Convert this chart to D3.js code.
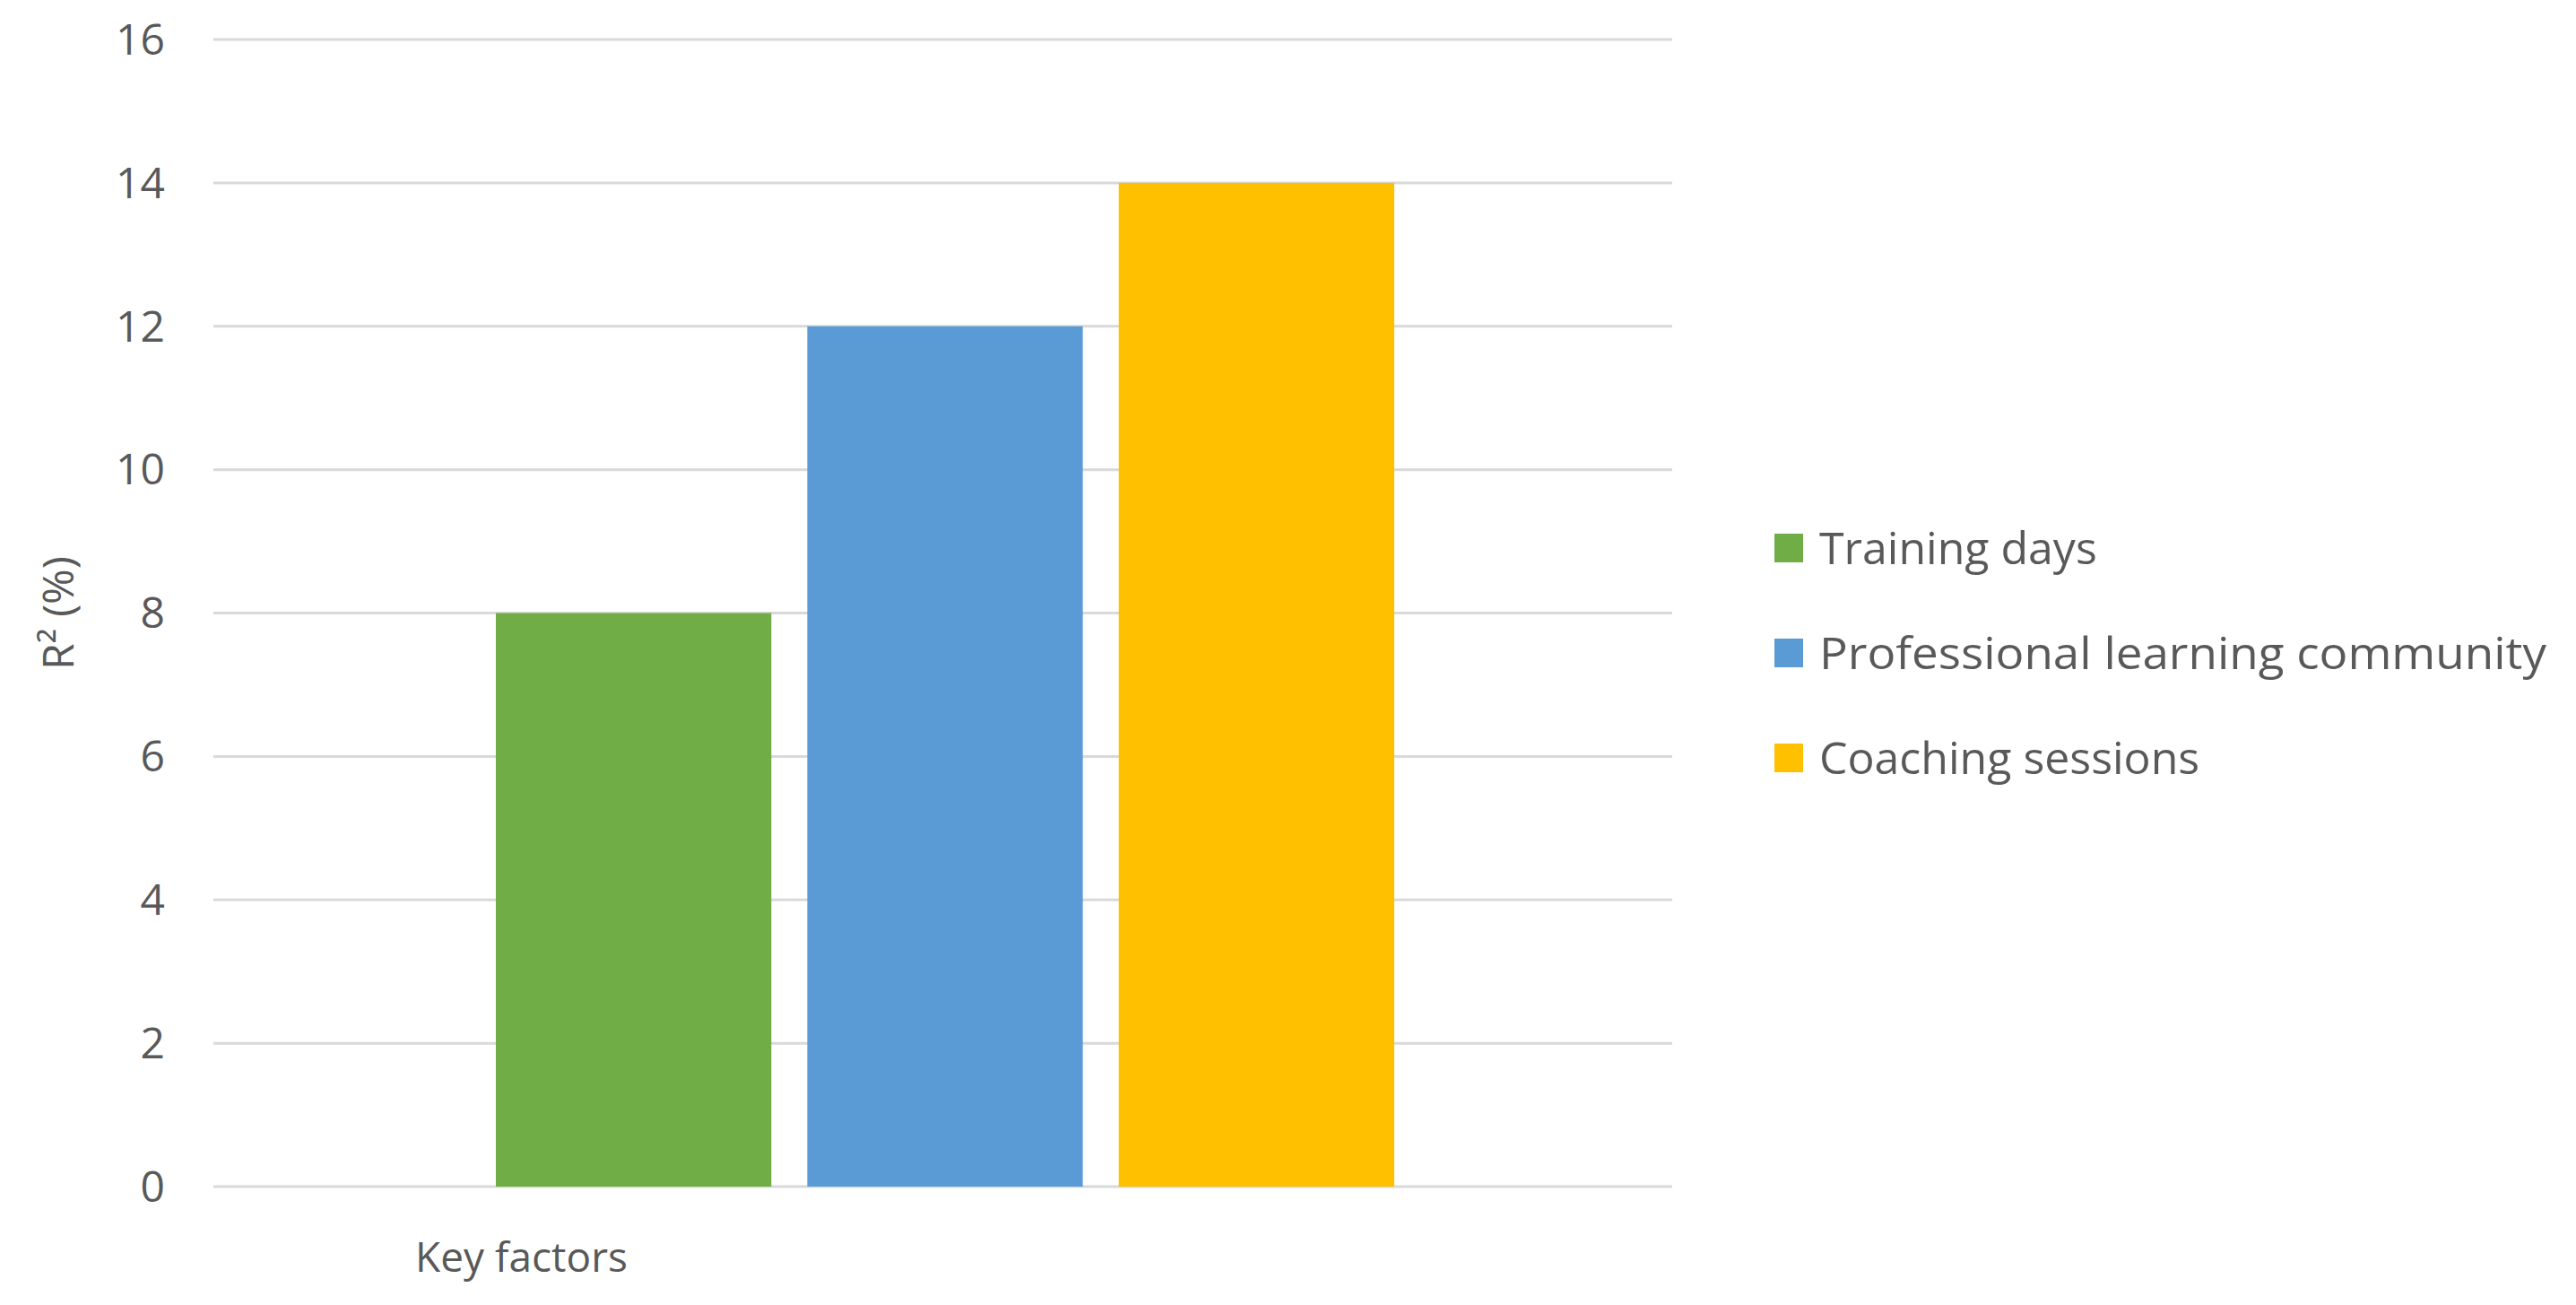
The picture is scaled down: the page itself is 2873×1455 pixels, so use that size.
<!DOCTYPE html>
<html><head><meta charset="utf-8">
<script src="https://cdn.jsdelivr.net/npm/d3@7"></script>
<style>body{margin:0;background:#fff}text{font-family:"Open Sans",sans-serif;fill:#595959}</style>
</head><body><svg id="c" width="2873" height="1455"></svg>
<script>
const categories = ["Training days","Professional learning community","Coaching sessions"];
const values = [8, 12, 14];
const colors = ["#70AD47","#5B9BD5","#FFC000"];
const yTicks = [0,2,4,6,8,10,12,14,16];
const xLabel = "Key factors";
const yLabel = "R² (%)";

const svg = d3.select("#c");
const L=238,R=1865,T=44,B=1323;
const y = d3.scaleLinear().domain([0,16]).range([B,T]);
const x = d3.scaleBand().domain(categories).range([553,1555]).paddingInner(0.1154).paddingOuter(0);

svg.append("g").selectAll("line").data(yTicks).join("line")
  .attr("x1",L).attr("x2",R).attr("y1",d=>y(d)).attr("y2",d=>y(d))
  .attr("stroke","#d9d9d9").attr("stroke-width",3);
svg.append("g").selectAll("text").data(yTicks).join("text")
  .attr("x",184).attr("y",d=>y(d)).attr("dy","0.35em").attr("text-anchor","end")
  .attr("font-size",48).text(d=>d);

svg.append("g").selectAll("rect").data(values).join("rect")
  .attr("x",(d,i)=>x(categories[i])).attr("width",x.bandwidth())
  .attr("y",d=>y(d)).attr("height",d=>B-y(d)).attr("fill",(d,i)=>colors[i]);

svg.append("text").attr("x",(L+R)/2-470).attr("y",1418).attr("text-anchor","middle")
  .attr("font-size",46).text(xLabel);
svg.append("text").attr("transform",`translate(82,${(T+B)/2}) rotate(-90)`).attr("text-anchor","middle")
  .attr("font-size",48).text(yLabel);

const lg = svg.append("g").selectAll("g").data(categories).join("g")
  .attr("transform",(d,i)=>`translate(1979,${611+i*117})`);
lg.append("rect").attr("x",0).attr("y",-16).attr("width",32).attr("height",32).attr("fill",(d,i)=>colors[i]);
lg.append("text").attr("x",50).attr("dy","0.35em").attr("font-size",50).text(d=>d)
  .each(function(d,i){ if(i===1) d3.select(this).attr("textLength",811).attr("lengthAdjust","spacingAndGlyphs"); });
</script></body></html>
